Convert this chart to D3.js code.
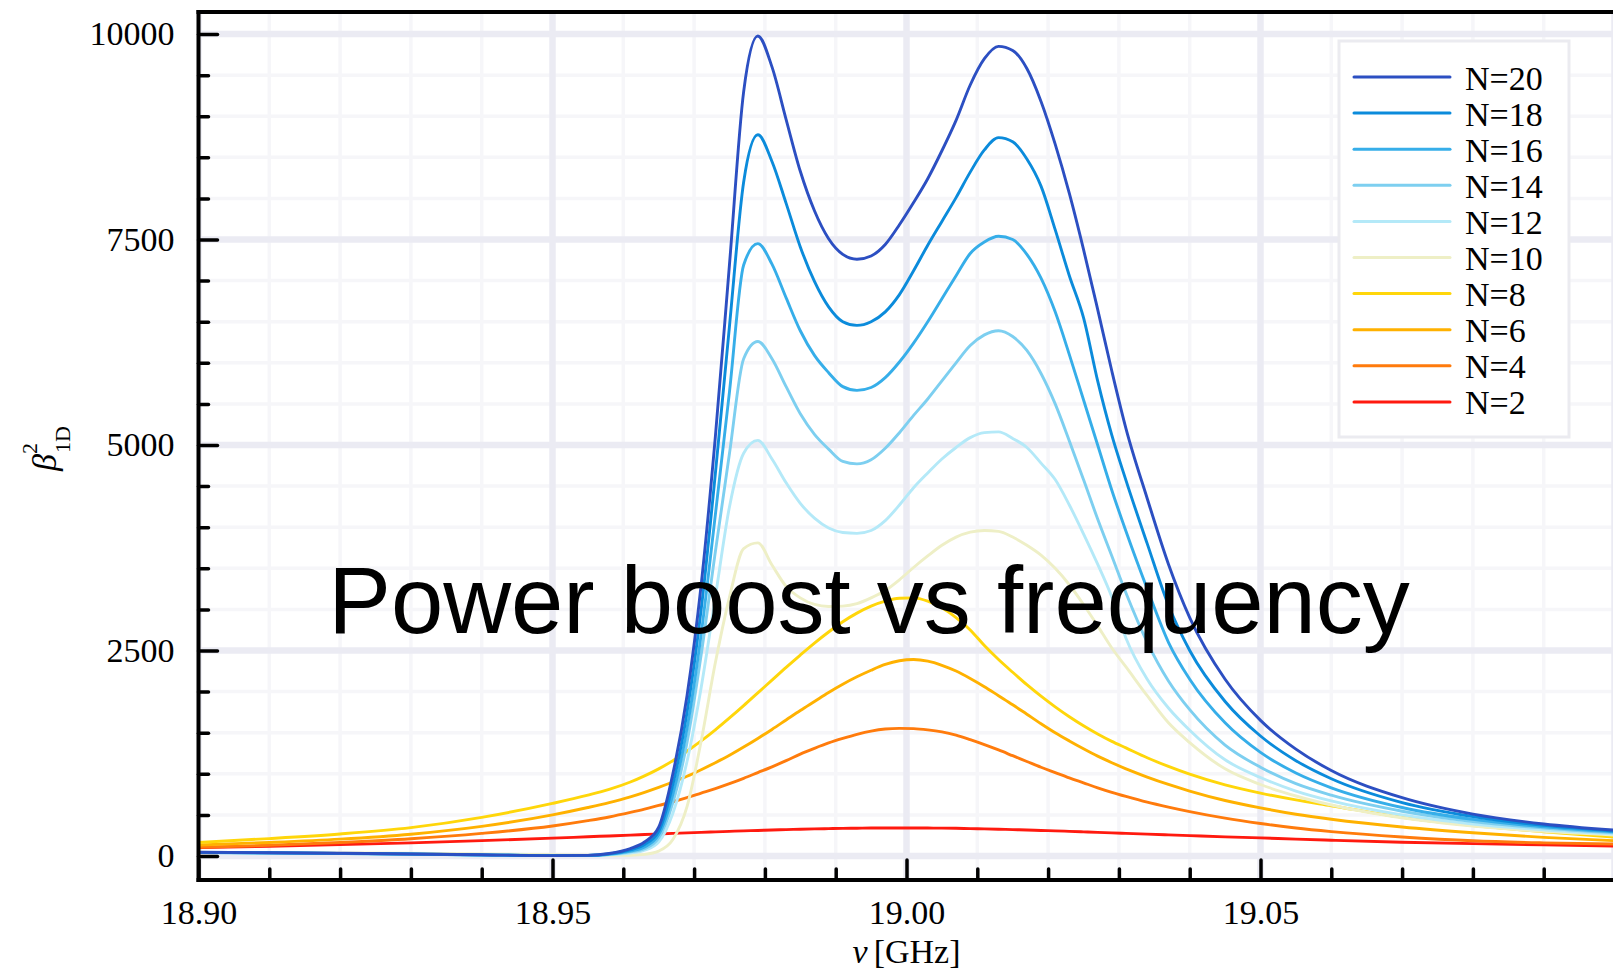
<!DOCTYPE html>
<html>
<head>
<meta charset="utf-8">
<script src="https://cdn.jsdelivr.net/npm/d3@7/dist/d3.min.js"></script>
<style>
  html, body { margin: 0; padding: 0; background: #ffffff; }
  svg { display: block; }
</style>
</head>
<body>
<svg id="chart" width="1613" height="980"></svg>
<script>
// ---------------- DATA ----------------
const freqGHz = [18.900,18.910,18.920,18.930,18.940,18.950,18.955,18.958,
  18.961,18.963,18.965,18.967,18.969,18.971,18.973,18.975,18.977,18.979,18.981,18.983,18.985,18.987,18.989,18.991,18.993,18.995,18.997,18.999,
  19.001,19.003,19.005,19.007,19.009,19.011,19.013,19.015,19.017,19.019,19.021,19.023,19.025,19.027,19.029,19.031,
  19.034,19.037,19.040,19.045,19.050,19.055,19.060,19.070,19.080,19.090,19.100];

const n20 = [45,40,33,25,15,5,8,30, 90,170,350,1000,1950,3300,5100,7200,9300, 9976, 9600,8960,8330,7850,7510,7320,7260,7300,7440,7680,
  7950,8240,8580,8950,9380,9700,9850,9800,9580,9180, 8660,8060,7380,6650,5900,5200, 4350,3550,2900,2150,1650,1300,1040,710,510,390,314];
const n18 = [44,39,32,24,14,5,7,26, 75,140,300,870,1750,3000,4650,6450,8200, 8775, 8450,7940,7410,6990,6680,6500,6455,6500,6620,6830,
  7120,7430,7720,8010,8320,8590,8740,8690,8480,8150, 7620,7060,6550,5780,5120,4570, 3800,3050,2500,1880,1460,1160,940,650,480,372,303];
const n16 = [43,38,31,23,13,5,6,22, 60,110,260,750,1550,2700,4150,5650,7190, 7450, 7200,6790,6390,6090,5880,5710,5665,5700,5820,6010,
  6240,6500,6780,7060,7330,7470,7540,7500,7320,7030, 6620,6100,5550,5000,4450,3950, 3250,2600,2150,1620,1260,1010,830,590,445,355,292];
const n14 = [42,37,30,22,12,5,6,18, 50,90,220,650,1380,2450,3700,4900,6050, 6259, 6050,5710,5380,5130,4950,4800,4770,4820,4960,5150,
  5360,5560,5780,6000,6210,6340,6390,6320,6150,5870, 5500,5050,4580,4100,3650,3200, 2600,2130,1780,1350,1080,880,740,545,420,340,280];
const n12 = [41,36,29,21,11,5,5,14, 35,70,170,520,1150,2050,3150,4250,4900, 5057, 4830,4540,4290,4110,3990,3935,3925,3960,4080,4270,
  4480,4660,4830,4970,5090,5150,5160,5080,4970,4780, 4580,4270,3920,3550,3150,2650, 2150,1800,1530,1170,955,790,670,500,390,318,266];
const n10 = [45,42,38,33,25,15,10,8, 10,20,60,200,600,1400,2350,3150,3740, 3810, 3540,3280,3140,3060,3035,3040,3070,3140,3230,3360,
  3510,3650,3780,3880,3940,3960,3950,3880,3780,3660, 3500,3300,3060,2800,2530,2300, 1950,1620,1380,1060,870,730,620,465,365,300,255];
const n8 = [165,212,268,345,470,640,740,810, 900,975,1060,1160,1275,1400,1535,1680,1830, 1985, 2140,2295,2445,2590,2725,2850,2955,3040,3100,3135,
  3140,3100,3020,2900,2750,2560,2390,2235,2085,1945, 1815,1695,1585,1485,1395,1315, 1195,1090,995,865,765,682,612,470,370,295,230];
const n6 = [134,165,205,265,360,500,590,650, 720,775,835,900,970,1050,1135,1225,1325, 1430, 1540,1655,1770,1880,1990,2090,2180,2260,2330,2375,
  2390,2370,2320,2250,2160,2060,1950,1840,1725,1610, 1500,1400,1305,1215,1135,1060, 960,870,790,675,585,508,447,352,282,227,186];
const n4 = [105,130,165,210,275,365,430,475, 530,570,615,660,710,765,820,880,945, 1015, 1085,1160,1240,1310,1375,1430,1480,1520,1545,1553,
  1550,1535,1510,1470,1415,1355,1290,1220,1150,1080, 1015,950,890,830,775,725, 655,595,540,460,395,340,297,232,185,160,145];
const n2 = [103,119,138,160,187,217,234,244, 254,261,268,275,281,288,294,300,306, 311, 317,321,326,330,333,336,338,340,341,341,
  341,340,339,337,333,330,326,321,317,311, 306,300,294,288,281,275, 266,257,248,233,220,205,192,168,150,135,122];

const seriesLabels = ["N=20","N=18","N=16","N=14","N=12","N=10","N=8","N=6","N=4","N=2"];
const seriesValues = [n20,n18,n16,n14,n12,n10,n8,n6,n4,n2];
const seriesColors = ["#2c4fc2","#0b8bdb","#36aee9","#7dcff0","#b4e9f8","#eeefc6","#ffd60a","#ffb100","#ff7b0c","#ff1a0f"];

const xMajorTicks = [18.90, 18.95, 19.00, 19.05, 19.10];
const xTickLabels = ["18.90","18.95","19.00","19.05",""];
const yMajorTicks = [0, 2500, 5000, 7500, 10000];
const yTickLabels = ["0","2500","5000","7500","10000"];

// ---------------- LAYOUT ----------------
const L = 198.5, R = 1614.5, T = 12, B = 880;
const svg = d3.select("#chart");

const x = d3.scaleLinear().domain([18.9, 19.1]).range([L, R]);
const y = d3.scaleLinear().domain([-292, 10268]).range([B, T]);

const xMinor = d3.range(0, 21).map(i => 18.9 + i * 0.01);
const yMinor = d3.range(0, 21).map(i => i * 500);

svg.append("defs").append("clipPath").attr("id", "plotclip")
  .append("rect").attr("x", L).attr("y", T).attr("width", R - L).attr("height", B - T);

// ---------------- GRID ----------------
const grid = svg.append("g").attr("clip-path", "url(#plotclip)");
grid.selectAll(".vminor").data(xMinor).enter().append("line")
  .attr("x1", d => x(d)).attr("x2", d => x(d)).attr("y1", T).attr("y2", B)
  .attr("stroke", "#f6f6f9").attr("stroke-width", 3.5);
grid.selectAll(".hminor").data(yMinor).enter().append("line")
  .attr("x1", L).attr("x2", R).attr("y1", d => y(d)).attr("y2", d => y(d))
  .attr("stroke", "#f6f6f9").attr("stroke-width", 3.5);
grid.selectAll(".vmajor").data(xMajorTicks).enter().append("line")
  .attr("x1", d => x(d)).attr("x2", d => x(d)).attr("y1", T).attr("y2", B)
  .attr("stroke", "#ebebf3").attr("stroke-width", 6.5);
grid.selectAll(".hmajor").data(yMajorTicks).enter().append("line")
  .attr("x1", L).attr("x2", R).attr("y1", d => y(d)).attr("y2", d => y(d))
  .attr("stroke", "#ebebf3").attr("stroke-width", 6.5);

// ---------------- LINES ----------------
const line = d3.line()
  .x((d, i) => x(freqGHz[i]))
  .y(d => y(d))
  .curve(d3.curveMonotoneX);

const lines = svg.append("g").attr("clip-path", "url(#plotclip)");
for (let k = seriesValues.length - 1; k >= 0; k--) {
  lines.append("path")
    .datum(seriesValues[k])
    .attr("d", line)
    .attr("fill", "none")
    .attr("stroke", seriesColors[k])
    .attr("stroke-width", 2.9)
    .attr("stroke-linejoin", "round");
}

// ---------------- AXES ----------------
const tickFont = "'Liberation Serif', 'Times New Roman', serif";

function styleAxis(g) {
  g.select(".domain").remove();
  g.selectAll(".tick line").attr("stroke", "#000").attr("stroke-width", 3.5).attr("stroke-linecap", "round");
  g.selectAll(".tick text").attr("font-family", tickFont).attr("font-size", 34).attr("fill", "#000");
}

svg.append("g").attr("transform", `translate(${L},0)`)
  .call(d3.axisLeft(y).tickValues(yMinor.filter(v => v % 2500 !== 0)).tickSize(-10).tickFormat(""))
  .call(styleAxis);
svg.append("g").attr("transform", `translate(0,${B})`)
  .call(d3.axisBottom(x).tickValues(xMinor.filter((v, i) => i % 5 !== 0)).tickSize(-11).tickFormat(""))
  .call(styleAxis);

svg.append("g").attr("transform", `translate(${L},0)`)
  .call(d3.axisLeft(y).tickValues(yMajorTicks).tickSize(-19).tickPadding(24)
    .tickFormat((d, i) => yTickLabels[i]))
  .call(styleAxis);
svg.append("g").attr("transform", `translate(0,${B})`)
  .call(d3.axisBottom(x).tickValues(xMajorTicks).tickSize(-20).tickPadding(20)
    .tickFormat((d, i) => xTickLabels[i]))
  .call(styleAxis);

const spines = svg.append("g").attr("stroke", "#000").attr("stroke-width", 4);
spines.append("line").attr("x1", L).attr("x2", L).attr("y1", T - 2).attr("y2", B + 2);
spines.append("line").attr("x1", L - 2).attr("x2", R).attr("y1", B).attr("y2", B);
spines.append("line").attr("x1", L - 2).attr("x2", R).attr("y1", T).attr("y2", T);

const xl = svg.append("text")
  .attr("x", x(19.0)).attr("y", 963)
  .attr("text-anchor", "middle")
  .attr("font-family", tickFont).attr("font-size", 34).attr("fill", "#000");
xl.append("tspan").attr("font-style", "italic").text("ν");
xl.append("tspan").attr("dx", 6).text("[GHz]");

const yl = svg.append("g").attr("transform", "translate(56,449) rotate(-90)")
  .attr("font-family", tickFont).attr("fill", "#000");
yl.append("text").attr("x", -22).attr("y", 0).attr("font-size", 34).attr("font-style", "italic").text("β");
yl.append("text").attr("x", -5).attr("y", -19).attr("font-size", 22).text("2");
yl.append("text").attr("x", -4).attr("y", 14).attr("font-size", 22).text("1D");

// ---------------- LEGEND ----------------
const leg = svg.append("g");
leg.append("rect").attr("x", 1339).attr("y", 41).attr("width", 230).attr("height", 396)
  .attr("fill", "#ffffff").attr("stroke", "#ebebf0").attr("stroke-width", 3);
seriesLabels.forEach((lab, i) => {
  const yy = 77 + i * 36.1;
  leg.append("line").attr("x1", 1354).attr("x2", 1450).attr("y1", yy).attr("y2", yy)
    .attr("stroke", seriesColors[i]).attr("stroke-width", 3).attr("stroke-linecap", "round");
  leg.append("text").attr("x", 1465).attr("y", yy + 12.5)
    .attr("font-family", tickFont).attr("font-size", 34).attr("fill", "#000").text(lab);
});

// ---------------- TITLE OVERLAY ----------------
svg.append("text")
  .attr("x", 869).attr("y", 633)
  .attr("text-anchor", "middle")
  .attr("font-family", "'Liberation Sans', Arial, Helvetica, sans-serif")
  .attr("font-size", 94).attr("fill", "#000")
  .text("Power boost vs frequency");
</script>
</body>
</html>
